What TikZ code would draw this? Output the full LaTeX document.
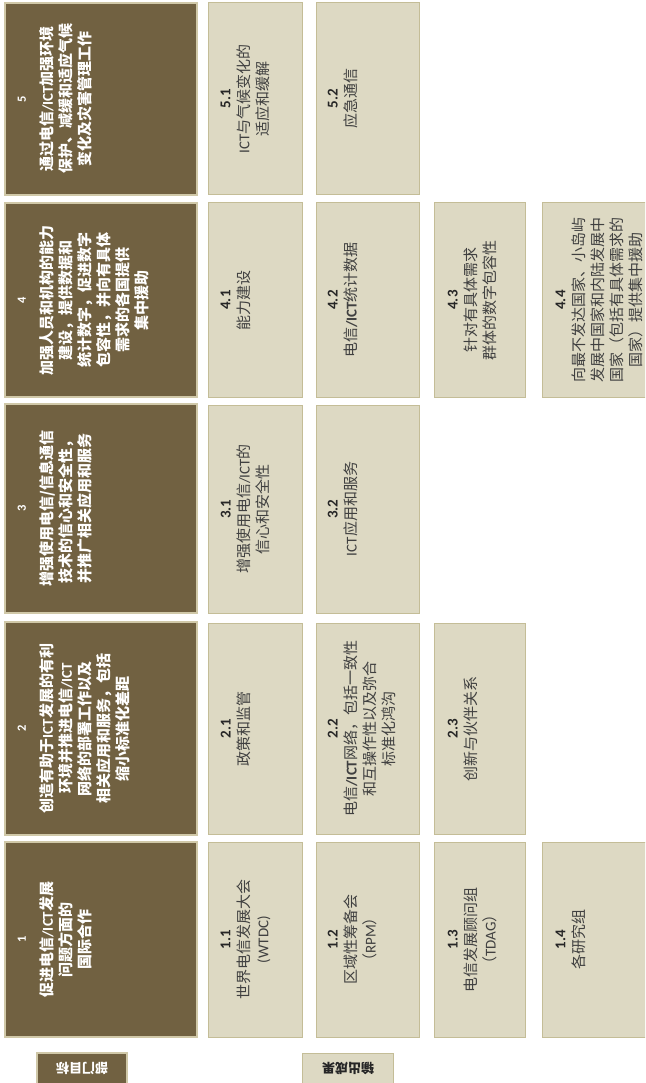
\documentclass[tikz,border=0pt]{standalone}
\usepackage{fontspec}
\setmainfont{Noto Sans CJK SC}
\newfontfamily\latf{Carlito}
\definecolor{darkfill}{HTML}{716141}
\definecolor{darkborder}{HTML}{D0C8A8}
\definecolor{lightfill}{HTML}{DDD9C3}
\definecolor{lightborder}{HTML}{C4BD97}
\definecolor{txtgray}{HTML}{404040}
\definecolor{numblack}{HTML}{262626}
\newcommand{\lat}[1]{{\latf #1}}
\newcommand{\bnum}[1]{{\latf\bfseries #1}}
\newcommand{\dnum}[1]{{\fontsize{12.5}{19}\selectfont\latf\bfseries #1}}
\newcommand{\cell}[6]{\node[#2, minimum width={(#5)-(#3)}, minimum height={(#6)-(#4)}] (#1) at (#3,#4) {};}
\begin{document}
\begin{tikzpicture}[x=1pt,y=-1pt,
  darkbox/.style={draw=darkborder, fill=darkfill, line width=1.2pt, inner sep=0pt, outer sep=0pt, anchor=north west},
  lightbox/.style={draw=lightborder, fill=lightfill, line width=1pt, inner sep=0pt, outer sep=0pt, anchor=north west},
  darktxt/.style={rotate=90, anchor=north, inner sep=0pt, align=center, text=white, font=\fontsize{15}{19}\selectfont\bfseries},
  lighttxt/.style={rotate=90, anchor=north, inner sep=0pt, align=center, text=txtgray, font=\fontsize{15}{19}\selectfont},
  legtxt/.style={rotate=180, inner sep=0pt, font=\fontsize{13}{16}\selectfont\bfseries},
]
\useasboundingbox (0,0) rectangle (645,1083);
\clip (0,0) rectangle (645,1083);
\fill[white] (0,0) rectangle (645,1083);

% goal boxes
\cell{g5}{darkbox}{5}{3}{197}{195}
\cell{g4}{darkbox}{5}{203}{197}{397}
\cell{g3}{darkbox}{5}{404}{197}{613}
\cell{g2}{darkbox}{5}{622}{197}{835}
\cell{g1}{darkbox}{5}{842}{197}{1037}

% output boxes
\cell{o51}{lightbox}{208}{3}{302}{195}
\cell{o52}{lightbox}{316}{3}{419}{195}
\cell{o41}{lightbox}{208}{203}{302}{397}
\cell{o42}{lightbox}{316}{203}{419}{397}
\cell{o43}{lightbox}{434}{203}{525}{397}
\cell{o44}{lightbox}{542}{203}{660}{397}
\cell{o31}{lightbox}{208}{405}{302}{613}
\cell{o32}{lightbox}{316}{405}{419}{613}
\cell{o21}{lightbox}{208}{623}{302}{834}
\cell{o22}{lightbox}{316}{623}{419}{834}
\cell{o23}{lightbox}{434}{623}{525}{834}
\cell{o11}{lightbox}{208}{842}{302}{1037}
\cell{o12}{lightbox}{316}{842}{419}{1037}
\cell{o13}{lightbox}{434}{842}{525}{1037}
\cell{o14}{lightbox}{542}{842}{660}{1037}

% legend boxes
\cell{lg}{darkbox}{37}{1053}{127}{1095}
\cell{lo}{lightbox}{302}{1053}{393}{1095}

% goal texts
\node[darktxt] (t5) at (17.5,99) {\dnum{5}\\[8pt]通过电信\lat{/ICT}加强环境\\保护、减缓和适应气候\\变化及灾害管理工作};
\node[darktxt] (t4) at (17.5,300) {\dnum{4}\\[8pt]加强人员和机构的能力\\建设，提供数据和\\统计数字，促进数字\\包容性，并向有具体\\需求的各国提供\\集中援助};
\node[darktxt] (t3) at (17.5,508.5) {\dnum{3}\\[8pt]增强使用电信/信息通信\\技术的信心和安全性，\\并推广相关应用和服务};
\node[darktxt] (t2) at (17.5,728.5) {\dnum{2}\\[8pt]创造有助于\lat{ICT}发展的有利\\环境并推进电信\lat{/ICT}\\网络的部署工作以及\\相关应用和服务，包括\\缩小标准化差距};
\node[darktxt] (t1) at (17.5,939.5) {\dnum{1}\\[8pt]促进电信\lat{/ICT}发展\\问题方面的\\国际合作};

% output texts
\node[lighttxt] (s51) at (220.5,99) {\textcolor{numblack}{\bnum{5.1}}\\\lat{ICT}与气候变化的\\适应和缓解};
\node[lighttxt] (s52) at (327.5,99) {\textcolor{numblack}{\bnum{5.2}}\\应急通信};
\node[lighttxt] (s41) at (220.5,300) {\textcolor{numblack}{\bnum{4.1}}\\能力建设};
\node[lighttxt] (s42) at (327.5,300) {\textcolor{numblack}{\bnum{4.2}}\\电信{\latf\bfseries /ICT}统计数据};
\node[lighttxt] (s43) at (447.5,300) {\textcolor{numblack}{\bnum{4.3}}\\针对有具体需求\\群体的数字包容性};
\node[lighttxt] (s44) at (555.5,300) {\textcolor{numblack}{\bnum{4.4}}\\向最不发达国家、小岛屿\\发展中国家和内陆发展中\\国家（包括有具体需求的\\国家）提供集中援助};
\node[lighttxt] (s31) at (220.5,509) {\textcolor{numblack}{\bnum{3.1}}\\增强使用电信\lat{/ICT}的\\信心和安全性};
\node[lighttxt] (s32) at (327.5,509) {\textcolor{numblack}{\bnum{3.2}}\\\lat{ICT}应用和服务};
\node[lighttxt] (s21) at (220.5,728.5) {\textcolor{numblack}{\bnum{2.1}}\\政策和监管};
\node[lighttxt] (s22) at (327.5,728.5) {\textcolor{numblack}{\bnum{2.2}}\\电信{\latf\bfseries /ICT}网络，包括一致性\\和互操作性以及弥合\\标准化鸿沟};
\node[lighttxt] (s23) at (447.5,728.5) {\textcolor{numblack}{\bnum{2.3}}\\创新与伙伴关系};
\node[lighttxt] (s11) at (220.5,939.5) {\textcolor{numblack}{\bnum{1.1}}\\世界电信发展大会\\\lat{(WTDC)}};
\node[lighttxt] (s12) at (327.5,939.5) {\textcolor{numblack}{\bnum{1.2}}\\区域性筹备会\\（\lat{RPM}）};
\node[lighttxt] (s13) at (447.5,939.5) {\textcolor{numblack}{\bnum{1.3}}\\电信发展顾问组\\（\lat{TDAG}）};
\node[lighttxt] (s14) at (555.5,939.5) {\textcolor{numblack}{\bnum{1.4}}\\各研究组};

% legend texts
\node[legtxt, text=white] (lgt) at (82,1068) {部门目标};
\node[legtxt, text=numblack] (lot) at (348,1068) {输出成果};
\end{tikzpicture}
\end{document}
